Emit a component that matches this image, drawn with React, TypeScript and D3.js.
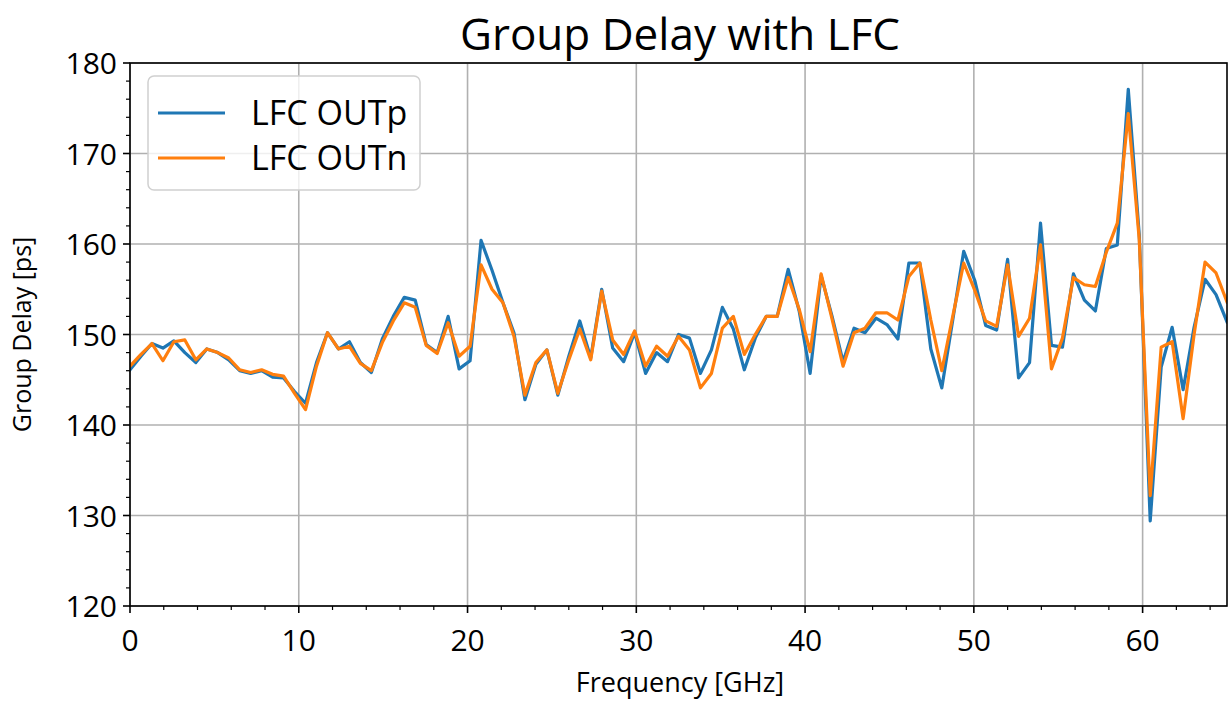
import React from "react";
import * as d3 from "d3";

const freqStep = 0.65;
const outP = [
  146.1, 147.6, 149.0, 148.5, 149.3, 148.0, 146.9, 148.4, 148.0, 147.2,
  146.0, 145.7, 146.0, 145.3, 145.2, 143.7, 142.4, 146.9, 150.2, 148.4,
  149.2, 146.9, 145.8, 149.5, 152.0, 154.1, 153.8, 148.9, 148.0, 152.0,
  146.2, 147.1, 160.4, 157.1, 153.5, 150.2, 142.8, 146.7, 148.3, 143.3,
  147.6, 151.5, 147.4, 155.0, 148.5, 147.0, 150.2, 145.7, 148.0, 147.0,
  150.0, 149.6, 145.7, 148.3, 153.0, 150.6, 146.1, 149.6, 152.0, 152.0,
  157.2, 152.6, 145.7, 156.5, 152.0, 147.0, 150.7, 150.2, 151.8, 151.1,
  149.5, 157.9, 157.9, 148.4, 144.1, 151.6, 159.2, 156.0, 151.0, 150.5,
  158.3, 145.2, 146.9, 162.3, 148.8, 148.6, 156.7, 153.8, 152.6, 159.5,
  159.9, 177.1, 161.0, 129.4, 146.4, 150.8, 143.9, 150.8, 156.1, 154.4,
  151.4,
];
const outN = [
  146.5, 147.8, 149.0, 147.1, 149.2, 149.4, 147.2, 148.4, 148.0, 147.4,
  146.1, 145.8, 146.1, 145.6, 145.4, 143.5, 141.7, 146.5, 150.2, 148.4,
  148.7, 146.8, 146.0, 149.1, 151.5, 153.5, 153.0, 148.8, 147.9, 151.3,
  147.6, 148.7, 157.7, 155.0, 153.5, 149.8, 143.3, 146.9, 148.3, 143.5,
  147.2, 150.6, 147.2, 154.8, 149.4, 147.8, 150.4, 146.5, 148.7, 147.6,
  149.8, 148.3, 144.1, 145.7, 150.7, 152.0, 147.8, 150.0, 152.0, 152.0,
  156.3, 152.8, 148.1, 156.7, 151.7, 146.5, 150.2, 150.7, 152.4, 152.4,
  151.6, 156.4, 157.9, 151.6, 146.0, 152.0, 157.9, 154.9, 151.5, 150.9,
  157.7, 149.8, 151.8, 159.9, 146.2, 149.6, 156.3, 155.5, 155.3, 159.1,
  162.3, 174.4, 160.5, 132.2, 148.6, 149.2, 140.7, 150.0, 158.0, 156.8,
  153.6,
];
const xTicks = [0, 10, 20, 30, 40, 50, 60];
const yTicks = [120, 130, 140, 150, 160, 170, 180];
const seriesNames = ["LFC OUTp", "LFC OUTn"];
const colors = ["#1f77b4", "#ff7f0e"];

const W = 1231, H = 702;
const L = 130, R = 1227, T = 63, B = 606;
const FONT = "'Open Sans', 'DejaVu Sans', sans-serif";

export default function App() {
  const x = d3.scaleLinear().domain([0, 65]).range([L, R]);
  const y = d3.scaleLinear().domain([120, 180]).range([B, T]);
  const line = d3
    .line<number>()
    .x((_, i) => x(i * freqStep))
    .y((d) => y(d));
  const xMinor = d3.range(0, 65.01, 2).filter((v) => v % 10 !== 0);
  const yMinor = d3.range(120, 180.01, 2).filter((v) => v % 10 !== 0);
  const series = [outP, outN];

  return (
    <svg width={W} height={H} style={{ position: "absolute", left: 0, top: 0, background: "#fff" }} fontFamily={FONT}>
      <rect x={0} y={0} width={W} height={H} fill="#fff" />
      {xTicks.map((t) => (
        <line key={"gx" + t} x1={x(t)} x2={x(t)} y1={T} y2={B} stroke="#b0b0b0" strokeWidth={1.6} />
      ))}
      {yTicks.map((t) => (
        <line key={"gy" + t} x1={L} x2={R} y1={y(t)} y2={y(t)} stroke="#b0b0b0" strokeWidth={1.6} />
      ))}
      <defs>
        <clipPath id="clip">
          <rect x={L} y={T} width={R - L} height={B - T} />
        </clipPath>
      </defs>
      <g clipPath="url(#clip)">
        {series.map((s, k) => (
          <path key={k} d={line(s) || ""} fill="none" stroke={colors[k]} strokeWidth={3.2} strokeLinejoin="round" strokeLinecap="square" />
        ))}
      </g>
      <rect x={L} y={T} width={R - L} height={B - T} fill="none" stroke="#000" strokeWidth={1.6} />
      {xTicks.map((t) => (
        <g key={"xt" + t}>
          <line x1={x(t)} x2={x(t)} y1={B} y2={B + 7} stroke="#000" strokeWidth={1.6} />
          <text x={x(t)} y={B + 45} textAnchor="middle" fontSize={30} fill="#000">{t}</text>
        </g>
      ))}
      {xMinor.map((t) => (
        <line key={"xm" + t} x1={x(t)} x2={x(t)} y1={B} y2={B + 4} stroke="#000" strokeWidth={1.2} />
      ))}
      {yTicks.map((t) => (
        <g key={"yt" + t}>
          <line x1={L - 7} x2={L} y1={y(t)} y2={y(t)} stroke="#000" strokeWidth={1.6} />
          <text x={L - 13} y={y(t) + 11} textAnchor="end" fontSize={30} fill="#000">{t}</text>
        </g>
      ))}
      {yMinor.map((t) => (
        <line key={"ym" + t} x1={L - 4} x2={L} y1={y(t)} y2={y(t)} stroke="#000" strokeWidth={1.2} />
      ))}
      <text x={680} y={50} textAnchor="middle" fontSize={44} fill="#000">Group Delay with LFC</text>
      <text x={680} y={692} textAnchor="middle" fontSize={27} fill="#000">Frequency [GHz]</text>
      <text transform={`translate(31,${(T + B) / 2}) rotate(-90)`} textAnchor="middle" fontSize={25} fill="#000">Group Delay [ps]</text>
      <rect x={148} y={76} width={272} height={114} rx={6} fill="#fff" fillOpacity={0.8} stroke="#d0d0d0" strokeWidth={1.5} />
      {seriesNames.map((n, k) => (
        <g key={n}>
          <line x1={158} x2={225} y1={113 + k * 45} y2={113 + k * 45} stroke={colors[k]} strokeWidth={3.2} />
          <text x={251} y={125 + k * 45} fontSize={34} fill="#000">{n}</text>
        </g>
      ))}
    </svg>
  );
}
